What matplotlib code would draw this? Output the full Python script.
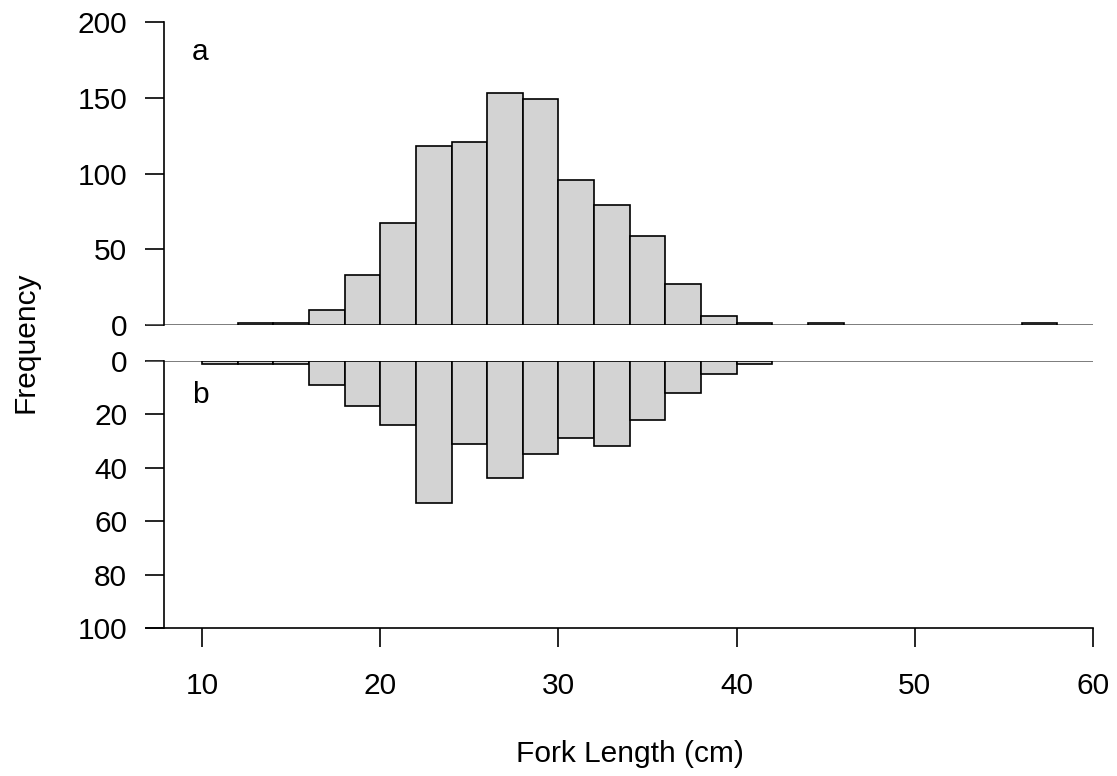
import numpy as np
import matplotlib.pyplot as plt

plt.rcParams['font.family'] = ['Liberation Sans', 'DejaVu Sans']

# 2 cm length classes, 10 to 60 cm
bin_edges = np.arange(10, 62, 2)
counts_a = [0, 1, 1, 10, 33, 67, 118, 121, 153, 149, 96, 79, 59, 27, 6, 1,
            0, 1, 0, 0, 0, 0, 0, 1, 0]
counts_b = [1, 1, 1, 9, 17, 24, 53, 31, 44, 35, 29, 32, 22, 12, 5, 1,
            0, 0, 0, 0, 0, 0, 0, 0, 0]
x_ticks = [10, 20, 30, 40, 50, 60]
yticks_a = [0, 50, 100, 150, 200]
yticks_b = [0, 20, 40, 60, 80, 100]

W, H = 1117, 776
fig = plt.figure(figsize=(W / 100, H / 100), dpi=100)

def px_axes(left, right, top, bottom):
    return fig.add_axes([left / W, 1 - bottom / H, (right - left) / W, (bottom - top) / H])

x_left = 10 - (202 - 146) / 17.8
spine_x = 10 - (202 - 164) / 17.8
fs = 21.5
tick_len = 13.5

ax_a = px_axes(146, 1093, 22, 325)
ax_b = px_axes(146, 1093, 361, 628)

for ax, counts, yt in [(ax_a, counts_a, yticks_a), (ax_b, counts_b, yticks_b)]:
    counts = np.array(counts)
    keep = counts > 0
    ax.bar(bin_edges[:-1][keep], counts[keep], width=2, align='edge',
           facecolor='#D3D3D3', edgecolor='black', linewidth=1.2, zorder=3)
    ax.axhline(0, color='#666666', linewidth=1.2, zorder=2)
    ax.set_xlim(x_left, 60)
    ax.spines['top'].set_visible(False)
    ax.spines['right'].set_visible(False)
    ax.spines['left'].set_position(('data', spine_x))
    ax.spines['left'].set_bounds(yt[0], yt[-1])
    ax.spines['left'].set_linewidth(1.2)
    ax.set_yticks(yt)
    ax.tick_params(axis='y', direction='out', length=tick_len, width=1.2,
                   labelsize=fs, pad=13)
    ax.set_facecolor('none')

ax_a.set_ylim(0, 200)
ax_a.spines['bottom'].set_visible(False)
ax_a.set_xticks([])
ax_a.text(9.9, 180, 'a', fontsize=fs, ha='center', va='center')

ax_b.set_ylim(100, 0)
ax_b.spines['bottom'].set_linewidth(1.2)
ax_b.set_xticks(x_ticks)
ax_b.tick_params(axis='x', direction='out', length=tick_len, width=1.2,
                 labelsize=fs, pad=18)
ax_b.text(9.9, 12.7, 'b', fontsize=fs, ha='center', va='center')

fig.text(25 / W, 1 - 342 / H, 'Frequency', rotation=90, fontsize=fs,
         ha='center', va='center')
fig.text(630 / W, 1 - 762 / H, 'Fork Length (cm)', fontsize=fs,
         ha='center', va='baseline')

fig.savefig('out.png', dpi=100)
